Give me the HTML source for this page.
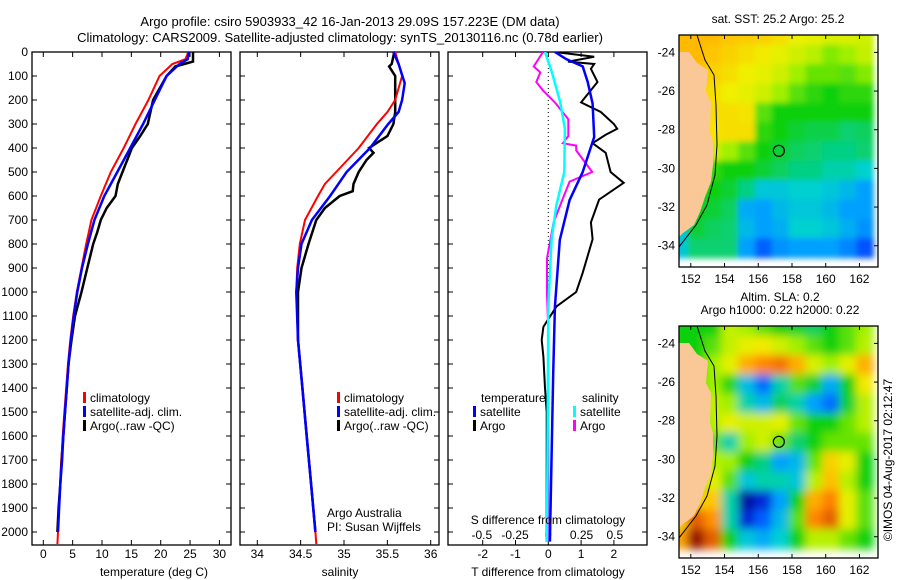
<!DOCTYPE html>
<html><head><meta charset="utf-8"><style>
html,body{margin:0;padding:0;background:#fff;}
svg{display:block;font-family:"Liberation Sans",sans-serif;font-size:12px;}
</style></head><body>
<svg id="fig" width="900" height="580" viewBox="0 0 900 580" xmlns="http://www.w3.org/2000/svg">
<defs>
<clipPath id="cp1"><rect x="32" y="52" width="199" height="493"/></clipPath>
<clipPath id="cp2"><rect x="240" y="52" width="199" height="493"/></clipPath>
<clipPath id="cp3"><rect x="448" y="52" width="199" height="493"/></clipPath>
<clipPath id="cm1"><rect x="679" y="35" width="199" height="232"/></clipPath>
<clipPath id="cm2"><rect x="679" y="326" width="199" height="232"/></clipPath>
<filter id="bl1" x="-5%" y="-5%" width="110%" height="110%"><feGaussianBlur stdDeviation="3"/></filter>
<filter id="bl2" x="-5%" y="-5%" width="110%" height="110%"><feGaussianBlur stdDeviation="4.5"/></filter>
</defs>
<text x="350" y="26" text-anchor="middle" font-size="13">Argo profile: csiro 5903933_42 16-Jan-2013 29.09S 157.223E (DM data)</text>
<text x="340" y="42" text-anchor="middle" font-size="13">Climatology: CARS2009. Satellite-adjusted climatology: synTS_20130116.nc (0.78d earlier)</text>
<g id="p1"></g>
<g id="p2"></g>
<g id="p3"></g>
<g id="m1"></g>
<g id="m2"></g>
<text x="154" y="576" text-anchor="middle">temperature (deg C)</text>
<text x="340" y="576" text-anchor="middle">salinity</text>
<text x="548" y="576" text-anchor="middle">T difference from climatology</text>
<text x="548" y="524" text-anchor="middle">S difference from climatology</text>
<text x="327" y="517">Argo Australia</text>
<text x="327" y="531">PI: Susan Wijffels</text>
<text x="778" y="23" text-anchor="middle">sat. SST: 25.2 Argo: 25.2</text>
<text x="780" y="301" text-anchor="middle">Altim. SLA: 0.2</text>
<text x="780" y="314" text-anchor="middle">Argo h1000: 0.22 h2000: 0.22</text>
<text transform="translate(892,460) rotate(-90)" text-anchor="middle">©IMOS 04-Aug-2017 02:12:47</text>
</svg>
<script>
// ---------- data ----------
var depthTicks=[0,100,200,300,400,500,600,700,800,900,1000,1100,1200,1300,1400,1500,1600,1700,1800,1900,2000];
var tempTicks=[0,5,10,15,20,25,30];
var salTicks=[34,34.5,35,35.5,36];
var salTickLabels=["34","34.5","35","35.5","36"];
var tdTicks=[-2,-1,0,1,2];
var sdTicks=[-0.5,-0.25,0,0.25,0.5];
var sdTickLabels=["-0.5","-0.25","0","0.25","0.5"];

var tClimD=[0,30,50,100,200,300,400,500,600,700,800,900,1000,1100,1200,1300,1400,1500,1600,1700,1800,1900,2000,2050];
var tClimV=[24.7,24.2,22,19.8,17.9,15.7,13.7,11.5,9.8,8.2,7.3,6.5,5.7,5.1,4.6,4.2,3.9,3.6,3.3,3.1,2.9,2.7,2.5,2.4];
var tSatD=[0,30,50,100,200,300,400,500,600,700,800,900,1000,1100,1200,1300,1400,1500,1600,1700,1800,1900,2000];
var tSatV=[24.8,24.6,23.2,21,19,17,14.8,12.6,10.4,8.7,7.6,6.6,5.8,5.2,4.7,4.3,4.0,3.7,3.4,3.2,2.9,2.7,2.5];
var tArgoD=[0,40,50,60,100,200,300,350,400,500,550,600,650,700,750,800,900,1000,1100,1200,1300,1400,1500,1600,1700,1800,1900,2000];
var tArgoV=[25.5,25.5,24,22.5,21,18.7,17.8,16.5,15.1,13.5,12.7,12.3,10.8,9.8,9.2,8.5,7.5,6.5,5.4,4.8,4.3,4.0,3.7,3.4,3.1,2.9,2.6,2.4];

var sClimD=[0,100,200,250,300,400,500,550,600,700,800,900,1000,1200,1400,1600,1800,2000,2050];
var sClimV=[35.59,35.67,35.59,35.5,35.38,35.17,34.91,34.78,34.7,34.55,34.49,34.46,34.45,34.47,34.52,34.57,34.62,34.67,34.68];
var sSatD=[0,50,130,200,250,300,400,500,600,700,800,900,1000,1200,1400,1600,1800,2000];
var sSatV=[35.57,35.63,35.7,35.67,35.63,35.51,35.3,35.03,34.84,34.63,34.51,34.47,34.45,34.47,34.52,34.57,34.62,34.67];
var sArgoD=[0,50,60,100,250,300,350,400,420,450,500,550,580,600,650,700,800,900,1000,1200,1400,1600,1800,2000];
var sArgoV=[35.58,35.55,35.52,35.59,35.59,35.57,35.5,35.29,35.34,35.26,35.17,35.11,35.1,34.95,34.78,34.68,34.59,34.51,34.47,34.47,34.52,34.57,34.62,34.67];

var dTArgoD=[0,20,40,50,70,125,210,250,300,320,345,380,420,500,545,615,710,780,920,1000,1060,1145,1200,1270,1400,1500,2040];
var dTArgoV=[0.2,1.4,0.6,1.4,1.3,1.5,1.0,1.6,2.0,2.1,1.75,1.35,1.75,1.9,2.3,1.55,1.3,1.35,1.05,0.85,0.25,-0.15,-0.2,-0.15,-0.1,-0.05,-0.05];
var dTSatD=[0,30,60,125,215,354,500,617,783,1062,1340,2040];
var dTSatV=[0.2,0.55,1.05,1.2,1.35,1.4,1.05,0.65,0.35,0.2,0.15,0.05];
var dSSatD=[0,80,210,320,500,640,780,1060,2040];
var dSSatV=[-0.025,0.025,0.09,0.125,0.12,0.06,0.025,0,-0.01];
var dSArgoD=[0,60,85,125,160,210,280,350,380,390,410,500,540,610,710,860,1010,1160,2040];
var dSArgoV=[-0.04,-0.11,-0.06,-0.09,-0.04,0.05,0.15,0.15,0.11,0.21,0.21,0.33,0.16,0.11,0.04,-0.01,-0.01,0,0];

var mapLons=[152,154,156,158,160,162];
var mapLats=[-24,-26,-28,-30,-32,-34];
var sstGrid=[
[.76,.76,.76,.74,.73,.72,.7,.67,.66,.65,.65,.64],
[.76,.76,.74,.72,.7,.68,.66,.64,.62,.58,.6,.63],
[.75,.75,.72,.7,.67,.66,.64,.6,.56,.56,.55,.58],
[.75,.75,.7,.67,.66,.64,.6,.55,.52,.5,.52,.52],
[.74,.74,.7,.7,.69,.55,.5,.5,.5,.5,.5,.5],
[.72,.72,.69,.7,.7,.52,.5,.48,.47,.47,.45,.46],
[.68,.68,.64,.6,.55,.5,.48,.46,.45,.44,.44,.45],
[.6,.6,.52,.5,.5,.48,.46,.44,.44,.42,.42,.4],
[.5,.5,.5,.48,.44,.38,.38,.4,.4,.38,.35,.3],
[.4,.5,.48,.46,.32,.3,.35,.38,.38,.35,.3,.3],
[.38,.48,.46,.45,.35,.3,.33,.4,.4,.38,.33,.28],
[.38,.45,.45,.45,.3,.2,.28,.3,.3,.3,.26,.18]];
var slaGrid=[
[.5,.5,.5,.63,.6,.55,.5,.48,.46,.5,.55,.6],
[.5,.5,.55,.63,.66,.68,.64,.6,.55,.5,.55,.62],
[.5,.5,.6,.66,.78,.84,.86,.78,.65,.6,.66,.78],
[.5,.5,.6,.52,.36,.22,.42,.55,.48,.32,.5,.68],
[.5,.5,.63,.6,.42,.35,.46,.42,.3,.22,.48,.62],
[.5,.5,.62,.66,.64,.64,.66,.56,.5,.5,.56,.62],
[.5,.5,.56,.42,.6,.64,.56,.45,.5,.56,.56,.56],
[.5,.5,.62,.6,.5,.44,.3,.35,.56,.72,.66,.5],
[.55,.55,.66,.55,.38,.42,.42,.38,.62,.75,.62,.5],
[.5,.72,.74,.42,.04,.1,.3,.5,.78,.85,.66,.55],
[.72,.88,.82,.42,.1,.2,.35,.55,.84,.88,.66,.55],
[.8,.97,.88,.5,.38,.32,.4,.5,.62,.62,.56,.5]];
var argoLon=157.22, argoLat=-29.09;

// ---------- helpers ----------
var NS="http://www.w3.org/2000/svg";
function mk(tag,parent){var e=document.createElementNS(NS,tag);parent.appendChild(e);return e;}
function yD(d){return 52+d*0.24;}
function xT(t){return 43.3+t*5.87;}
function xS(s){return 257.3+(s-34)*86.7;}
function xDT(t){return 548.3+t*32.8;}
function xDS(s){return 548.3+s*133;}

function frame(g,x0,x1,xt,xl,labelY){
  var r=mk('rect',g);r.setAttribute('x',x0);r.setAttribute('y',52);r.setAttribute('width',x1-x0);r.setAttribute('height',493);
  r.setAttribute('fill','none');r.setAttribute('stroke','#000');r.setAttribute('stroke-width','1.3');
  
  
  depthTicks.forEach(function(d){
    var l=mk('line',g);l.setAttribute('x1',x0);l.setAttribute('x2',x0+5);l.setAttribute('y1',yD(d));l.setAttribute('y2',yD(d));l.setAttribute('stroke','#000');
    
    
    var l2=mk('line',g);l2.setAttribute('x1',x1);l2.setAttribute('x2',x1-5);l2.setAttribute('y1',yD(d));l2.setAttribute('y2',yD(d));l2.setAttribute('stroke','#000');
    
    
  });
  xt.forEach(function(v,i){
    var x=xl.f(v);
    var l=mk('line',g);l.setAttribute('x1',x);l.setAttribute('x2',x);l.setAttribute('y1',545);l.setAttribute('y2',540);l.setAttribute('stroke','#000');
    
    
    var l2=mk('line',g);l2.setAttribute('x1',x);l2.setAttribute('x2',x);l2.setAttribute('y1',52);l2.setAttribute('y2',57);l2.setAttribute('stroke','#000');
    
    
    var t=mk('text',g);t.setAttribute('x',x);t.setAttribute('y',labelY);t.setAttribute('text-anchor','middle');t.textContent=xl.lab[i];
    
    
  });
}
function line(g,D,V,fx,col,w,clip,name){
  var p=mk('polyline',g);
  p.setAttribute('points',D.map(function(d,i){return fx(V[i]).toFixed(1)+','+yD(d).toFixed(1);}).join(' '));
  p.setAttribute('fill','none');p.setAttribute('stroke',col);p.setAttribute('stroke-width',w);p.setAttribute('clip-path','url(#'+clip+')');
  
  
}
function legItem(g,x,y,col,txt,name){
  var r=mk('rect',g);r.setAttribute('x',x);r.setAttribute('y',y-10);r.setAttribute('width',3);r.setAttribute('height',11);r.setAttribute('fill',col);
  
  
  var t=mk('text',g);t.setAttribute('x',x+7);t.setAttribute('y',y);t.textContent=txt;
  
  
}

var svg=document.getElementById('fig');
depthTicks.forEach(function(d){
  var t=mk('text',svg);t.setAttribute('x',28);t.setAttribute('y',yD(d)+4);t.setAttribute('text-anchor','end');t.textContent=d;
  
  
});

var g1=document.getElementById('p1');
frame(g1,32,231,tempTicks,{f:xT,lab:tempTicks.map(String)},558);
line(g1,tArgoD,tArgoV,xT,'#000',2.5,'cp1','temp-argo-line');
line(g1,tClimD,tClimV,xT,'#f00',2,'cp1','temp-climatology-line');
line(g1,tSatD,tSatV,xT,'#00f',2.5,'cp1','temp-satellite-line');
legItem(g1,83,402,'#f00','climatology','legend-climatology');
legItem(g1,83,416,'#00f','satellite-adj. clim.','legend-satellite');
legItem(g1,83,430,'#000','Argo(..raw -QC)','legend-argo');

var g2=document.getElementById('p2');
frame(g2,240,439,salTicks,{f:xS,lab:salTickLabels},558);
line(g2,sArgoD,sArgoV,xS,'#000',2.5,'cp2','sal-argo-line');
line(g2,sClimD,sClimV,xS,'#f00',2,'cp2','sal-climatology-line');
line(g2,sSatD,sSatV,xS,'#00f',2.5,'cp2','sal-satellite-line');
legItem(g2,337,402,'#f00','climatology','legend-climatology');
legItem(g2,337,416,'#00f','satellite-adj. clim.','legend-satellite');
legItem(g2,337,430,'#000','Argo(..raw -QC)','legend-argo');

var g3=document.getElementById('p3');
frame(g3,448,647,tdTicks,{f:xDT,lab:tdTicks.map(String)},558);
sdTicks.forEach(function(v,i){
  var t=mk('text',g3);t.setAttribute('x',xDS(v));t.setAttribute('y',539);t.setAttribute('text-anchor','middle');t.textContent=sdTickLabels[i];
  
  
});
var zl=mk('line',g3);zl.setAttribute('x1',xDT(0));zl.setAttribute('x2',xDT(0));zl.setAttribute('y1',52);zl.setAttribute('y2',545);
zl.setAttribute('stroke','#000');zl.setAttribute('stroke-dasharray','1,3');


line(g3,dTArgoD,dTArgoV,xDT,'#000',2,'cp3','t-diff-argo-line');
line(g3,dSArgoD,dSArgoV,xDS,'#f0f',2,'cp3','s-diff-argo-line');
line(g3,dTSatD,dTSatV,xDT,'#00f',2.5,'cp3','t-diff-satellite-line');
line(g3,dSSatD,dSSatV,xDS,'#0ff',2.5,'cp3','s-diff-satellite-line');
var tt=mk('text',g3);tt.setAttribute('x',481);tt.setAttribute('y',402);tt.textContent='temperature';


var st=mk('text',g3);st.setAttribute('x',582);st.setAttribute('y',402);st.textContent='salinity';


legItem(g3,473,416,'#00f','satellite','legend-t-satellite');
legItem(g3,473,430,'#000','Argo','legend-t-argo');
legItem(g3,573,416,'#0ff','satellite','legend-s-satellite');
legItem(g3,573,430,'#f0f','Argo','legend-s-argo');

var stops=[[0,[0,0,128]],[.15,[0,64,255]],[.3,[0,160,255]],[.4,[0,208,208]],[.5,[16,208,16]],[.6,[160,240,0]],[.67,[240,240,0]],[.75,[255,192,0]],[.85,[255,128,0]],[.92,[192,48,0]],[1,[128,0,0]]];
function cmap(v){
  for(var i=1;i<stops.length;i++){ if(v<=stops[i][0]){var a=stops[i-1],b=stops[i],f=(v-a[0])/(b[0]-a[0]);
    return 'rgb('+a[1].map(function(c,k){return Math.round(c+(b[1][k]-c)*f);}).join(',')+')';}}
  return 'rgb(128,0,0)';
}
function drawMap(g,top,grid,clip,filt,name){
  var x0=679,w=199,h=232;
  function lx(l){return x0+(l-151.3)*(w/11.8);}
  function ly(l){return top+(-23.1-l)*(h/12);}
  var cg=mk('g',g);cg.setAttribute('clip-path','url(#'+clip+')');
  var hg=mk('g',cg);hg.setAttribute('filter','url(#'+filt+')');
  grid.forEach(function(row,r){row.forEach(function(v,c){
    var re=mk('rect',hg);
    re.setAttribute('x',lx(151.3+c-0.5));re.setAttribute('y',ly(-23.1-r+0.5));
    re.setAttribute('width',w/11.8+1);re.setAttribute('height',h/12+1);re.setAttribute('fill',cmap(v));
    
    
  });});
  var land=mk('polygon',cg);
  var pts=[[679,top+17],[689,top+17],[697,top+28],[708,top+35],[706,top+57],[711,top+67],[710,top+97],[713,top+107],[713,top+130],[711,top+147],[705,top+162],[700,top+177],[694,top+190],[683,top+198],[679,top+202]];
  land.setAttribute('points',pts.map(function(p){return p.join(',');}).join(' '));
  land.setAttribute('fill','#fac896');
  
  
  var cont=mk('polyline',cg);
  cont.setAttribute('points',[[697,top],[705,top+25],[714,top+40],[716,top+70],[717,top+110],[715,top+140],[707,top+170],[696,top+190],[679,top+212]].map(function(p){return p.join(',');}).join(' '));
  cont.setAttribute('fill','none');cont.setAttribute('stroke','#000');cont.setAttribute('stroke-width','1');
  
  
  var circ=mk('circle',g);circ.setAttribute('cx',lx(argoLon));circ.setAttribute('cy',ly(argoLat));circ.setAttribute('r',5.5);
  circ.setAttribute('fill','none');circ.setAttribute('stroke','#000');circ.setAttribute('stroke-width','1.2');
  
  
  var fr=mk('rect',g);fr.setAttribute('x',x0);fr.setAttribute('y',top);fr.setAttribute('width',w);fr.setAttribute('height',h);
  fr.setAttribute('fill','none');fr.setAttribute('stroke','#000');fr.setAttribute('stroke-width','1.3');
  
  
  mapLons.forEach(function(l){
    var x=lx(l);
    var tk=mk('line',g);tk.setAttribute('x1',x);tk.setAttribute('x2',x);tk.setAttribute('y1',top+h);tk.setAttribute('y2',top+h-4);tk.setAttribute('stroke','#000');
    
    
    var tk2=mk('line',g);tk2.setAttribute('x1',x);tk2.setAttribute('x2',x);tk2.setAttribute('y1',top);tk2.setAttribute('y2',top+4);tk2.setAttribute('stroke','#000');
    
    
    var t=mk('text',g);t.setAttribute('x',x);t.setAttribute('y',top+h+16);t.setAttribute('text-anchor','middle');t.textContent=l;
    
    
  });
  mapLats.forEach(function(l){
    var y=ly(l);
    var tk=mk('line',g);tk.setAttribute('x1',x0+w);tk.setAttribute('x2',x0+w-4);tk.setAttribute('y1',y);tk.setAttribute('y2',y);tk.setAttribute('stroke','#000');
    
    
    var t=mk('text',g);t.setAttribute('x',675);t.setAttribute('y',y+4);t.setAttribute('text-anchor','end');t.textContent=l;
    
    
  });
}
drawMap(document.getElementById('m1'),35,sstGrid,'cm1','bl1','sst-map');
drawMap(document.getElementById('m2'),326,slaGrid,'cm2','bl2','sla-map');
</script>
</body></html>
